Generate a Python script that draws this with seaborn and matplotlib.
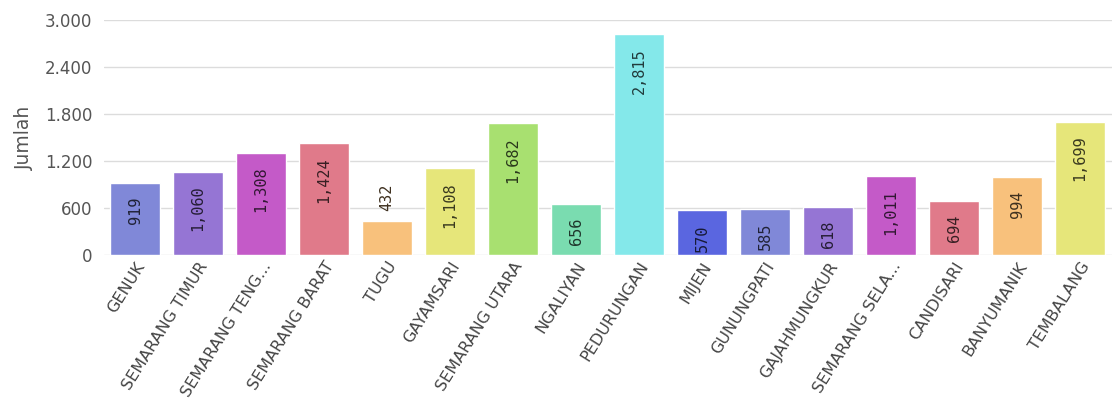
import matplotlib
matplotlib.use("Agg")
import matplotlib.pyplot as plt
import seaborn as sns
import pandas as pd
import matplotlib.colors as mcolors
from matplotlib.ticker import FuncFormatter

categories = ["GENUK", "SEMARANG TIMUR", "SEMARANG TENG...", "SEMARANG BARAT", "TUGU",
              "GAYAMSARI", "SEMARANG UTARA", "NGALIYAN", "PEDURUNGAN", "MIJEN",
              "GUNUNGPATI", "GAJAHMUNGKUR", "SEMARANG SELA...", "CANDISARI",
              "BANYUMANIK", "TEMBALANG"]
values = [919, 1060, 1308, 1424, 432, 1108, 1682, 656, 2815, 570, 585, 618, 1011, 694, 994, 1699]
colors = ["#8088d8", "#9575d4", "#c45ac8", "#e07a8a", "#f8c17c", "#e6e67a", "#a8e070",
          "#7adcb0", "#84e8ea", "#5a66e0", "#8088d8", "#9575d4", "#c45ac8", "#e07a8a",
          "#f8c17c", "#e6e67a"]
yticks = [0, 600, 1200, 1800, 2400, 3000]

sns.set_theme(style="white")
plt.rcParams['font.family'] = ['DejaVu Sans']

df = pd.DataFrame({"Kecamatan": categories, "Jumlah": values})

fig = plt.figure(figsize=(11.12, 4.16), dpi=100)
ax = fig.add_axes([0.0932, 0.387, 0.9065, 0.565])
sns.barplot(data=df, x="Kecamatan", y="Jumlah", hue="Kecamatan", palette=colors,
            legend=False, width=0.8, saturation=1, ax=ax)

ax.set_ylim(0, 3000)
ax.set_xlim(-0.5, len(categories) - 0.5)
ax.set_yticks(yticks)
ax.yaxis.set_major_formatter(FuncFormatter(lambda v, p: f"{int(v):,}".replace(",", ".")))
ax.yaxis.grid(True, color="#dcdcdc", lw=1)
ax.set_axisbelow(True)
for s in ax.spines.values():
    s.set_visible(False)

ax.tick_params(axis="y", length=0, pad=8, labelsize=12, labelcolor="#555555")
ax.tick_params(axis="x", length=0, pad=3)
ax.set_xticks(range(len(categories)))
ax.set_xticklabels(categories, rotation=58, ha="right", rotation_mode="anchor",
                   fontsize=11.5, color="#444444")
ax.set_xlabel("")
ax.set_ylabel("Jumlah", fontsize=13.5, color="#555555", labelpad=8)

for i, v in enumerate(values):
    c = mcolors.to_rgb(colors[i])
    tc = tuple(x * 0.25 for x in c)
    txt = f"{v:,}"
    if v >= 500:
        ax.annotate(txt, (i, v), xytext=(0, -10), textcoords="offset points",
                    rotation=90, ha="center", va="top", fontsize=11,
                    family="DejaVu Sans Mono", color=tc)
    else:
        ax.annotate(txt, (i, v), xytext=(0, 7), textcoords="offset points",
                    rotation=90, ha="center", va="bottom", fontsize=11,
                    family="DejaVu Sans Mono", color=tc)

fig.savefig("out.png", dpi=100, facecolor="white")
